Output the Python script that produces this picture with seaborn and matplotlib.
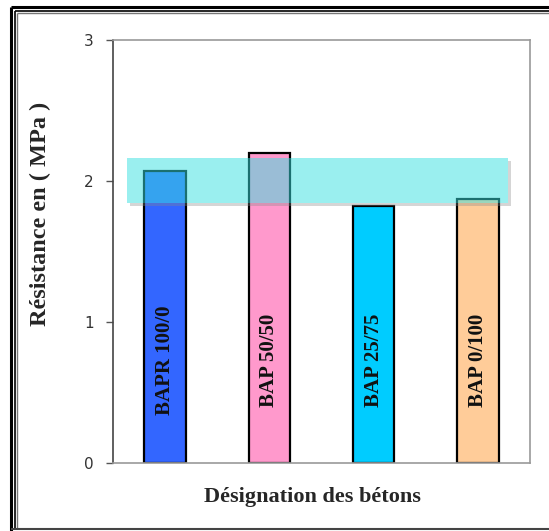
import matplotlib
matplotlib.use("Agg")
import matplotlib.pyplot as plt
from matplotlib.patches import Rectangle, Polygon
from matplotlib.lines import Line2D
import seaborn as sns
import pandas as pd

# Concrete mixes and their measured strength (MPa)
categories = ["BAPR 100/0", "BAP 50/50", "BAP 25/75", "BAP 0/100"]
resistance = [2.07, 2.20, 1.82, 1.87]
bar_colors = ["#3366FF", "#FF99CC", "#00CCFF", "#FFCC99"]
y_ticks = [0, 1, 2, 3]

df = pd.DataFrame({"beton": categories, "resistance": resistance})

sns.set_style("white")
plt.rcParams["font.family"] = ["DejaVu Sans"]

fig = plt.figure(figsize=(5.49, 5.31), dpi=100)
ax = fig.add_axes([113 / 549, 1 - 463 / 531, 417 / 549, 423 / 531])

sns.barplot(data=df, x="beton", y="resistance", hue="beton",
            palette=bar_colors, saturation=1, legend=False, width=0.4,
            edgecolor="black", linewidth=1.6, dodge=False, ax=ax)

ax.set_ylim(0, 3)
ax.set_xlim(-0.5, len(categories) - 0.5)
ax.set_yticks(y_ticks)
ax.set_yticklabels([str(t) for t in y_ticks], fontsize=11, color="#333333")
ax.set_xticks([])
ax.tick_params(axis="y", direction="out", length=5, width=1, color="#555555", pad=9, left=True)
ax.set_xlabel("")
ax.set_ylabel("")

for side in ["top", "right", "bottom"]:
    ax.spines[side].set_color("#999999")
    ax.spines[side].set_linewidth(1.2)
ax.spines["left"].set_color("#444444")
ax.spines["left"].set_linewidth(1.2)

# Mix names written vertically inside each bar
for i, name in enumerate(categories):
    ax.text(i, 0.73, name, rotation=90, ha="center", va="center",
            fontsize=15, fontweight="bold", family="Liberation Serif",
            color="#111111")

# Translucent band highlighting the common strength range, with a soft drop shadow
bx0, bx1, by0, by1 = -0.366, 3.289, 1.844, 2.163
sdx, sdy = 0.03, 0.022
shadow = Polygon([(bx1, by1 - sdy), (bx1 + sdx, by1 - sdy), (bx1 + sdx, by0 - sdy),
                  (bx0 + sdx, by0 - sdy), (bx0 + sdx, by0), (bx1, by0)],
                 closed=True, facecolor="#888888", alpha=0.35, edgecolor="none",
                 zorder=5, clip_on=False)
ax.add_patch(shadow)
band = Rectangle((bx0, by0), bx1 - bx0, by1 - by0,
                 facecolor=(55 / 255, 225 / 255, 225 / 255, 0.5),
                 edgecolor="none", zorder=6, clip_on=False)
ax.add_patch(band)

fig.text(40 / 549, 1 - 214 / 531, "Résistance en ( MPa )", rotation=90,
         ha="center", va="center", fontsize=17.5, fontweight="bold",
         family="Liberation Serif")
fig.text(312 / 549, 1 - 497 / 531, "Désignation des bétons", ha="center",
         va="center", fontsize=16, fontweight="bold", family="Liberation Serif")

# Double frame around the chart
def frame_line(xs, ys, lw, color):
    fig.add_artist(Line2D(xs, ys, transform=fig.transFigure, color=color,
                          linewidth=lw, solid_capstyle="butt"))

W, H = 549, 531
frame_line([11 / W, 11 / W], [1 - 7 / H, 1 - 531 / H], 2.2, "black")
frame_line([11 / W, 1.0], [1 - 7 / H, 1 - 7 / H], 2.2, "black")
frame_line([14.5 / W, 14.5 / W], [1 - 10.5 / H, 1 - 529 / H], 1.2, "black")
frame_line([14.5 / W, 1.0], [1 - 10.5 / H, 1 - 10.5 / H], 1.2, "black")
frame_line([16.5 / W, 16.5 / W], [1 - 12.5 / H, 1 - 528 / H], 1.0, "#777777")
frame_line([16.5 / W, 1.0], [1 - 12.5 / H, 1 - 12.5 / H], 1.0, "#777777")
frame_line([11 / W, 1.0], [1 - 529 / H, 1 - 529 / H], 1.5, "#444444")

fig.savefig("out.png", dpi=100)
